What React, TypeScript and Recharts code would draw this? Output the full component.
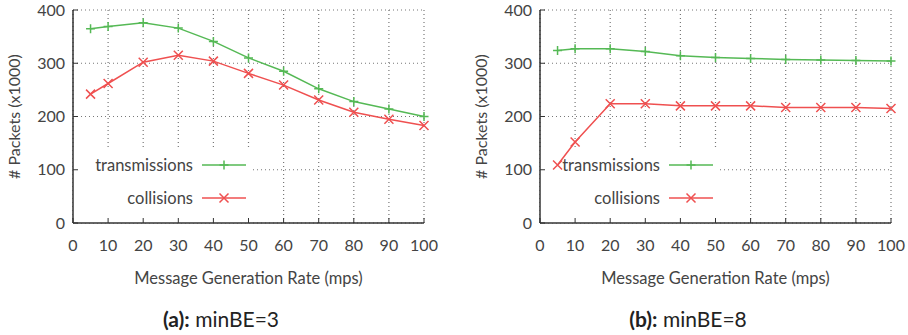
import {
  LineChart,
  Line,
  XAxis,
  YAxis,
  CartesianGrid,
  ReferenceArea,
  Legend,
} from "recharts";

// message generation rate (mps)
const rates = [5, 10, 20, 30, 40, 50, 60, 70, 80, 90, 100];

// packets (x1000), minBE=3
const txA = [365, 369, 376, 366, 341, 310, 285, 252, 228, 214, 200];
const colA = [242, 262, 302, 315, 304, 281, 259, 231, 208, 195, 183];

// packets (x1000), minBE=8
const txB = [324, 327, 327, 322, 314, 311, 309, 307, 306, 305, 304];
const colB = [109, 152, 224, 224, 220, 220, 220, 217, 217, 217, 215];

const xTicks = [0, 10, 20, 30, 40, 50, 60, 70, 80, 90, 100];
const yTicks = [0, 100, 200, 300, 400];

const GREEN = "#55b955";
const RED = "#ef5050";
const TEXT = "#444";
const FONT = "Lato, 'DejaVu Sans', sans-serif";

type Shape = "plus" | "cross";

function markerPath(x: number, y: number, shape: Shape) {
  const r = 4.5;
  if (shape === "plus") {
    return `M${x - r},${y}L${x + r},${y}M${x},${y - r}L${x},${y + r}`;
  }
  return `M${x - r},${y - r}L${x + r},${y + r}M${x - r},${y + r}L${x + r},${y - r}`;
}

function makeDot(shape: Shape, color: string) {
  return (props: any) => {
    const { cx, cy, index } = props;
    return (
      <path
        key={`${shape}-${index}`}
        d={markerPath(cx, cy, shape)}
        stroke={color}
        strokeWidth={1.5}
        fill="none"
      />
    );
  };
}

const series = [
  { name: "transmissions", color: GREEN, shape: "plus" as Shape },
  { name: "collisions", color: RED, shape: "cross" as Shape },
];

function KeyBox() {
  return (
    <div style={{ fontFamily: FONT, fontSize: 16.5, color: TEXT }}>
      {series.map((s) => (
        <div
          key={s.name}
          style={{ display: "flex", alignItems: "center", height: 33 }}
        >
          <span style={{ width: 113, textAlign: "right" }}>{s.name}</span>
          <svg width={44} height={14} style={{ marginLeft: 9 }}>
            <line x1={0} y1={7} x2={44} y2={7} stroke={s.color} strokeWidth={1.5} />
            <path
              d={markerPath(22, 7, s.shape)}
              stroke={s.color}
              strokeWidth={1.5}
              fill="none"
            />
          </svg>
        </div>
      ))}
    </div>
  );
}

interface PanelProps {
  tx: number[];
  col: number[];
  left: number;
  right: number;
  tag: string;
  text: string;
  captionX: number;
}

function Panel({ tx, col, left, right, tag, text, captionX }: PanelProps) {
  const data = rates.map((r, i) => ({ rate: r, tx: tx[i], col: col[i] }));
  const tick = { fill: TEXT, fontSize: 16, fontFamily: FONT };

  return (
    <div style={{ position: "relative", width: 454, height: 335 }}>
      <LineChart
        width={454}
        height={335}
        data={data}
        margin={{ top: 10, right, bottom: 42, left }}
        style={{ fontFamily: FONT }}
      >
        <CartesianGrid
          stroke="#777"
          strokeDasharray="1 3"
          strokeWidth={1.2}
        />
        <ReferenceArea
          x1={0}
          x2={51}
          y1={0}
          y2={141}
          fill="#fff"
          fillOpacity={1}
          stroke="none"
        />
        <XAxis
          dataKey="rate"
          type="number"
          domain={[0, 100]}
          ticks={xTicks}
          height={70}
          tick={tick}
          tickSize={-5}
          tickMargin={22}
          axisLine={{ stroke: "#333", strokeWidth: 1.5 }}
          tickLine={{ stroke: "#333" }}
          label={{
            value: "Message Generation Rate (mps)",
            position: "insideBottom",
            offset: 9,
            style: { fill: TEXT, fontSize: 16.5, fontFamily: FONT },
          }}
        />
        <YAxis
          type="number"
          domain={[0, 400]}
          ticks={yTicks}
          width={73}
          tick={tick}
          tickSize={-5}
          tickMargin={13}
          axisLine={{ stroke: "#333", strokeWidth: 1.5 }}
          tickLine={{ stroke: "#333" }}
          label={{
            value: "# Packets (x1000)",
            angle: -90,
            position: "insideLeft",
            offset: 14,
            style: { textAnchor: "middle", fill: TEXT, fontSize: 16, fontFamily: FONT },
          }}
        />
        <Legend
          layout="vertical"
          align="center"
          verticalAlign="middle"
          content={() => <KeyBox />}
          wrapperStyle={{ left: left + 80, top: 148.5, width: 170 }}
        />
        <Line
          dataKey="tx"
          stroke={GREEN}
          strokeWidth={1.5}
          dot={makeDot("plus", GREEN)}
          isAnimationActive={false}
        />
        <Line
          dataKey="col"
          stroke={RED}
          strokeWidth={1.5}
          dot={makeDot("cross", RED)}
          isAnimationActive={false}
        />
      </LineChart>
      <div
        style={{
          position: "absolute",
          left: captionX - 100,
          width: 200,
          top: 305,
          textAlign: "center",
          fontFamily: FONT,
          fontSize: 21,
          color: "#222",
          lineHeight: "28px",
        }}
      >
        <b>{tag}</b> {text}
      </div>
    </div>
  );
}

export default function App() {
  return (
    <div
      style={{
        position: "absolute",
        left: 0,
        top: 0,
        width: 908,
        height: 335,
        display: "flex",
        background: "#fff",
      }}
    >
      <Panel tx={txA} col={colA} left={0} right={30} tag="(a):" text="minBE=3" captionX={221} />
      <Panel tx={txB} col={colB} left={13} right={17} tag="(b):" text="minBE=8" captionX={234} />
    </div>
  );
}
